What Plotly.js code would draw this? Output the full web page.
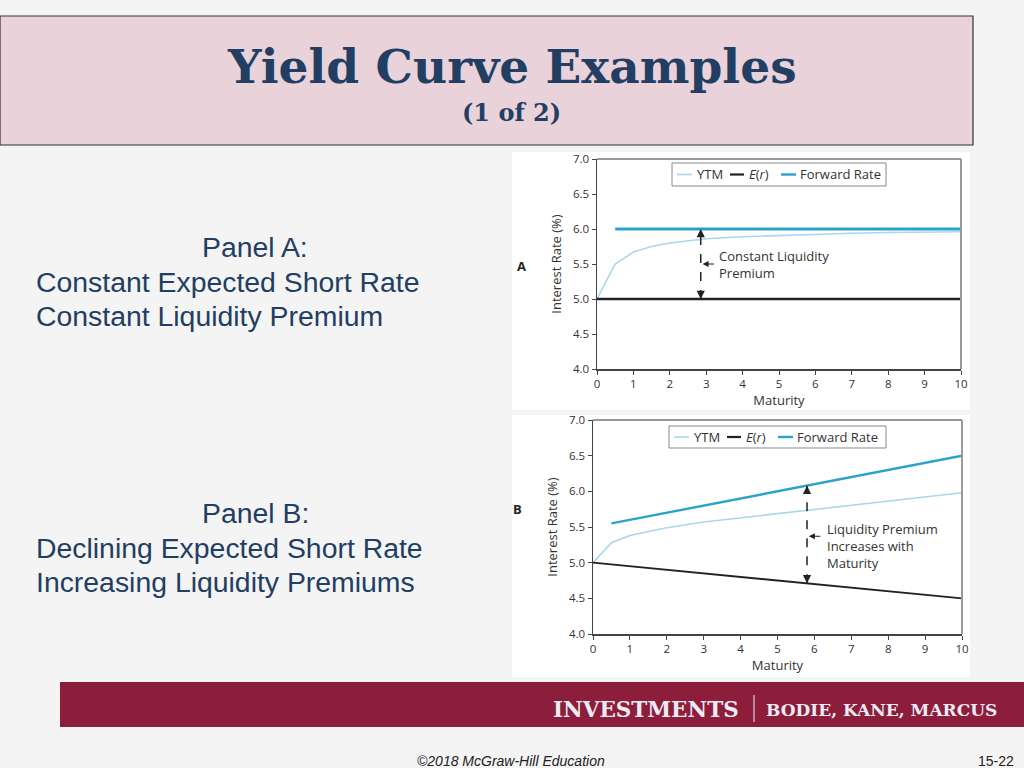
<!DOCTYPE html>
<html>
<head>
<meta charset="utf-8">
<script src="https://cdn.plot.ly/plotly-3.0.1.min.js"></script>
<style>
html,body{margin:0;padding:0;background:#f4f4f4;}
#chart{width:1024px;height:768px;}
</style>
</head>
<body>
<div id="chart"></div>
<script>
// ---- data ----
const maturity = [0, 0.5, 1, 1.5, 2, 3, 4, 5, 6, 7, 8, 9, 10];
const ytmA = [5.0, 5.5, 5.67, 5.75, 5.8, 5.86, 5.89, 5.91, 5.93, 5.94, 5.95, 5.96, 5.96];
const erMatA = [0, 10];
const erA = [5.0, 5.0];
const fwdMatA = [0.5, 10];
const fwdA = [6.0, 6.0];

const ytmB = [5.0, 5.28, 5.38, 5.44, 5.49, 5.57, 5.63, 5.69, 5.75, 5.80, 5.86, 5.92, 5.98];
const erMatB = [0, 10];
const erB = [5.0, 4.5];
const fwdMatB = [0.5, 10];
const fwdB = [5.55, 6.5];

const xTickVals = [0, 1, 2, 3, 4, 5, 6, 7, 8, 9, 10];
const yTickVals = [4.0, 4.5, 5.0, 5.5, 6.0, 6.5, 7.0];
const yTickText = ['4.0', '4.5', '5.0', '5.5', '6.0', '6.5', '7.0'];
const seriesNames = ['YTM', '<i>E</i>(<i>r</i>)', 'Forward Rate'];

const titleText = 'Yield Curve Examples';
const subtitleText = '(1 of 2)';
const panelAText = ['Panel A:', 'Constant Expected Short Rate', 'Constant Liquidity Premium'];
const panelBText = ['Panel B:', 'Declining Expected Short Rate', 'Increasing Liquidity Premiums'];
const noteA = 'Constant Liquidity<br>Premium';
const noteB = 'Liquidity Premium<br>Increases with<br>Maturity';

// ---- styles ----
const W = 1024, H = 768;
const px = x => x / W;
const py = y => 1 - y / H;
const cYTM = '#a8d8ea', cER = '#222222', cFWD = '#2ba3c9';
const chartFont = 'Open Sans, Liberation Sans, sans-serif';
const textBlue = '#223e62';

const traces = [
  {x: maturity, y: ytmA, xaxis: 'x', yaxis: 'y', mode: 'lines', line: {color: cYTM, width: 1.6}, name: 'YTM', showlegend: false, hoverinfo: 'skip'},
  {x: erMatA, y: erA, xaxis: 'x', yaxis: 'y', mode: 'lines', line: {color: cER, width: 2.4}, name: 'E(r)', showlegend: false, hoverinfo: 'skip'},
  {x: fwdMatA, y: fwdA, xaxis: 'x', yaxis: 'y', mode: 'lines', line: {color: cFWD, width: 2.8}, name: 'Forward Rate', showlegend: false, hoverinfo: 'skip'},
  {x: maturity, y: ytmB, xaxis: 'x2', yaxis: 'y2', mode: 'lines', line: {color: cYTM, width: 1.6}, name: 'YTM', showlegend: false, hoverinfo: 'skip'},
  {x: erMatB, y: erB, xaxis: 'x2', yaxis: 'y2', mode: 'lines', line: {color: cER, width: 1.9}, name: 'E(r)', showlegend: false, hoverinfo: 'skip'},
  {x: fwdMatB, y: fwdB, xaxis: 'x2', yaxis: 'y2', mode: 'lines', line: {color: cFWD, width: 2.4}, name: 'Forward Rate', showlegend: false, hoverinfo: 'skip'}
];

function xAxis(domain, anchor) {
  return {
    domain: domain, anchor: anchor, range: [0, 10], tickvals: xTickVals,
    ticks: 'outside', ticklen: 4, tickwidth: 1, tickcolor: '#444',
    showline: true, linecolor: '#444', linewidth: 1.5, showgrid: false, zeroline: false,
    tickfont: {family: chartFont, size: 11.5, color: '#333'},
    title: {text: 'Maturity', font: {family: chartFont, size: 13, color: '#333'}, standoff: 3},
    fixedrange: true
  };
}
function yAxis(domain, anchor) {
  return {
    domain: domain, anchor: anchor, range: [4, 7], tickvals: yTickVals, ticktext: yTickText,
    ticks: 'outside', ticklen: 4, tickwidth: 1, tickcolor: '#444',
    showline: true, linecolor: '#444', linewidth: 1.5, showgrid: false, zeroline: false,
    tickfont: {family: chartFont, size: 11.5, color: '#333'},
    title: {text: 'Interest Rate (%)', font: {family: chartFont, size: 13, color: '#333'}, standoff: 8},
    fixedrange: true
  };
}

const shapes = [];
const annotations = [];

// title box
shapes.push({type: 'rect', xref: 'paper', yref: 'paper', x0: px(0), x1: px(973), y0: py(16), y1: py(145), fillcolor: '#e9d2d9', line: {color: '#333', width: 1.2}, layer: 'below'});
// chart panels (white)
shapes.push({type: 'rect', xref: 'paper', yref: 'paper', x0: px(512), x1: px(970), y0: py(152), y1: py(410), fillcolor: '#ffffff', line: {width: 0}, layer: 'below'});
shapes.push({type: 'rect', xref: 'paper', yref: 'paper', x0: px(512), x1: px(970), y0: py(415), y1: py(677), fillcolor: '#ffffff', line: {width: 0}, layer: 'below'});
// footer bar
shapes.push({type: 'rect', xref: 'paper', yref: 'paper', x0: px(60), x1: px(1024), y0: py(682), y1: py(727), fillcolor: '#8c1d3b', line: {width: 0}, layer: 'below'});
shapes.push({type: 'line', xref: 'paper', yref: 'paper', x0: px(754), x1: px(754), y0: py(695), y1: py(722), line: {color: '#eeeaf2', width: 1}});

// plot frames (top/right gray border)
['x', 'x2'].forEach((xa, i) => {
  const ya = i === 0 ? 'y' : 'y2';
  shapes.push({type: 'line', xref: xa + ' domain', yref: ya + ' domain', x0: 0, x1: 1, y0: 1, y1: 1, line: {color: '#999', width: 2}});
  shapes.push({type: 'line', xref: xa + ' domain', yref: ya + ' domain', x0: 1, x1: 1, y0: 0, y1: 1, line: {color: '#999', width: 2}});
});

// manual legends
function addLegend(box, yc) {
  shapes.push({type: 'rect', xref: 'paper', yref: 'paper', x0: px(box[0]), x1: px(box[1]), y0: py(box[2]), y1: py(box[3]), fillcolor: '#ffffff', line: {color: '#888', width: 1}});
  const items = [
    {l0: box[0] + 5, l1: box[0] + 20, color: cYTM, w: 1.6, t: box[0] + 23, name: seriesNames[0]},
    {l0: box[0] + 58, l1: box[0] + 72, color: cER, w: 2.2, t: box[0] + 75, name: seriesNames[1]},
    {l0: box[0] + 109, l1: box[0] + 124, color: cFWD, w: 2.4, t: box[0] + 126, name: seriesNames[2]}
  ];
  items.forEach(it => {
    shapes.push({type: 'line', xref: 'paper', yref: 'paper', x0: px(it.l0), x1: px(it.l1), y0: py(yc), y1: py(yc), line: {color: it.color, width: it.w}});
    annotations.push({xref: 'paper', yref: 'paper', x: px(it.t), y: py(yc), xanchor: 'left', yanchor: 'middle', text: it.name, showarrow: false, font: {family: chartFont, size: 13, color: '#333'}});
  });
}
addLegend([672, 886, 163, 186], 174.5);
addLegend([669, 886, 426, 448], 437);

// dashed premium arrows
function premiumArrow(xa, ya, xv, lo, hi, side) {
  shapes.push({type: 'line', xref: xa, yref: ya, x0: xv, x1: xv, y0: lo, y1: hi, line: {color: '#222', width: 1.5, dash: 'dash'}});
  annotations.push({xref: xa, yref: ya, x: xv, y: hi, ax: 0, ay: 9, text: '', showarrow: true, arrowhead: 2, arrowsize: 1.1, arrowwidth: 1.5, arrowcolor: '#222'});
  annotations.push({xref: xa, yref: ya, x: xv, y: lo, ax: 0, ay: -9, text: '', showarrow: true, arrowhead: 2, arrowsize: 1.1, arrowwidth: 1.5, arrowcolor: '#222'});
  annotations.push({xref: xa, yref: ya, x: xv + 0.05, y: side, ax: 13, ay: 0, text: '', showarrow: true, arrowhead: 2, arrowsize: 1, arrowwidth: 1.2, arrowcolor: '#222'});
}
premiumArrow('x', 'y', 2.85, erA[0], fwdA[0], 5.5);
premiumArrow('x2', 'y2', 5.8, 4.71, 6.08, 5.37);

annotations.push({xref: 'x', yref: 'y', x: 3.3, y: 5.49, xanchor: 'left', yanchor: 'middle', align: 'left', text: noteA, showarrow: false, font: {family: chartFont, size: 13, color: '#333'}});
annotations.push({xref: 'x2', yref: 'y2', x: 6.28, y: 5.24, xanchor: 'left', yanchor: 'middle', align: 'left', text: noteB, showarrow: false, font: {family: chartFont, size: 13, color: '#333'}});

// panel letters
annotations.push({xref: 'paper', yref: 'paper', x: px(521), y: py(255), text: '<b>A</b>', showarrow: false, font: {family: chartFont, size: 13, color: '#222'}});
annotations.push({xref: 'paper', yref: 'paper', x: px(517), y: py(520), text: '<b>B</b>', showarrow: false, font: {family: chartFont, size: 13, color: '#222'}});

// titles
annotations.push({xref: 'paper', yref: 'paper', x: px(512), y: py(66), xanchor: 'center', yanchor: 'middle', text: '<b>' + titleText + '</b>', showarrow: false, font: {family: 'DejaVu Serif, serif', size: 47, color: textBlue}});
annotations.push({xref: 'paper', yref: 'paper', x: px(511), y: py(113), xanchor: 'center', yanchor: 'middle', text: '<b>' + subtitleText + '</b>', showarrow: false, font: {family: 'DejaVu Serif, serif', size: 24, color: textBlue}});

// left side text
const sideFont = {family: 'Liberation Sans, Arial, sans-serif', size: 28.4, color: textBlue};
function leftText(lines, y0) {
  annotations.push({xref: 'paper', yref: 'paper', x: px(255), y: py(y0), xanchor: 'center', yanchor: 'middle', text: lines[0], showarrow: false, font: sideFont});
  annotations.push({xref: 'paper', yref: 'paper', x: px(34), y: py(y0 + 35), xanchor: 'left', yanchor: 'middle', text: lines[1], showarrow: false, font: sideFont});
  annotations.push({xref: 'paper', yref: 'paper', x: px(34), y: py(y0 + 69), xanchor: 'left', yanchor: 'middle', text: lines[2], showarrow: false, font: sideFont});
}
leftText(panelAText, 247);
leftText(panelBText, 513);

// footer text
annotations.push({xref: 'paper', yref: 'paper', x: px(741), y: py(709), xanchor: 'right', yanchor: 'middle', text: '<b>INVESTMENTS</b>', showarrow: false, font: {family: 'DejaVu Serif, serif', size: 21.5, color: '#ecebf3'}});
annotations.push({xref: 'paper', yref: 'paper', x: px(999), y: py(710), xanchor: 'right', yanchor: 'middle', text: '<b>BODIE, KANE, MARCUS</b>', showarrow: false, font: {family: 'DejaVu Serif, serif', size: 17, color: '#ecebf3'}});
annotations.push({xref: 'paper', yref: 'paper', x: px(511), y: py(761), xanchor: 'center', yanchor: 'middle', text: '<i>©2018 McGraw-Hill Education</i>', showarrow: false, font: {family: 'Liberation Sans, Arial, sans-serif', size: 14, color: '#222'}});
annotations.push({xref: 'paper', yref: 'paper', x: px(1016), y: py(761), xanchor: 'right', yanchor: 'middle', text: '15-22', showarrow: false, font: {family: 'Liberation Sans, Arial, sans-serif', size: 14, color: '#222'}});

const layout = {
  width: W, height: H,
  margin: {l: 0, r: 0, t: 0, b: 0},
  paper_bgcolor: '#f4f4f4',
  plot_bgcolor: 'rgba(0,0,0,0)',
  showlegend: false,
  xaxis: xAxis([px(597), px(961)], 'y'),
  yaxis: yAxis([py(369), py(159)], 'x'),
  xaxis2: xAxis([px(593), px(962)], 'y2'),
  yaxis2: yAxis([py(634), py(420)], 'x2'),
  shapes: shapes,
  annotations: annotations
};

Plotly.newPlot('chart', traces, layout, {staticPlot: true, displayModeBar: false});
</script>
</body>
</html>
